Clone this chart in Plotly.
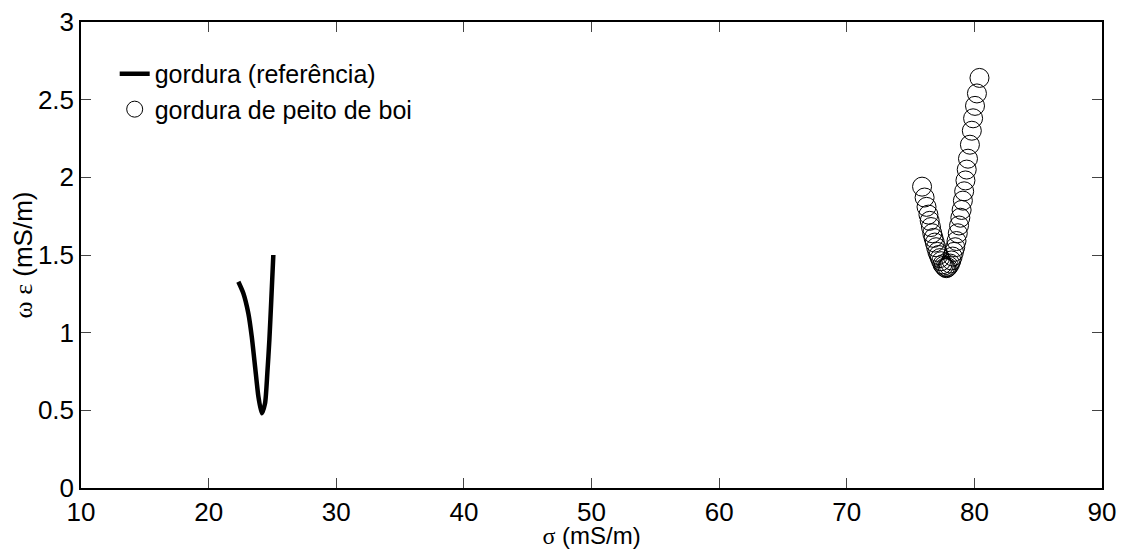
import plotly.graph_objects as go

# Reference curve: gordura (referência)
ref_sigma = [22.33, 22.72, 23.11, 23.38, 23.64, 23.90, 24.16, 24.42, 24.60, 24.76, 24.91, 25.07]
ref_we = [1.328, 1.254, 1.125, 0.974, 0.781, 0.588, 0.481, 0.545, 0.739, 0.953, 1.211, 1.50]

# Measured: gordura de peito de boi
boi_sigma = [75.9, 76.1, 76.25, 76.4, 76.5, 76.6, 76.7, 76.8, 76.9, 77.0, 77.1, 77.2,
             77.3, 77.4, 77.5, 77.6, 77.7, 77.8, 77.9, 78.0, 78.1, 78.2, 78.3, 78.4,
             78.5, 78.6, 78.7, 78.8, 78.9, 79.0, 79.1, 79.2, 79.3, 79.4, 79.5, 79.65,
             79.8, 79.9, 80.05, 80.2, 80.4]
boi_we = [1.94, 1.87, 1.81, 1.76, 1.72, 1.68, 1.64, 1.61, 1.58, 1.55, 1.52, 1.50,
          1.48, 1.46, 1.44, 1.43, 1.42, 1.415, 1.42, 1.43, 1.445, 1.465, 1.49, 1.52,
          1.55, 1.59, 1.64, 1.69, 1.74, 1.79, 1.85, 1.91, 1.98, 2.05, 2.12, 2.21,
          2.30, 2.38, 2.46, 2.54, 2.64]

x_ticks = [10, 20, 30, 40, 50, 60, 70, 80, 90]
y_ticks = [0, 0.5, 1, 1.5, 2, 2.5, 3]

FONT = "Liberation Sans, Arial, sans-serif"
GREEK = "font-family:'Liberation Serif','Times New Roman',serif"

fig = go.Figure()
fig.add_trace(go.Scatter(
    x=ref_sigma, y=ref_we, mode="lines", name="gordura (referência)",
    line=dict(color="black", width=4.5, shape="spline", smoothing=0.6),
))
fig.add_trace(go.Scatter(
    x=boi_sigma, y=boi_we, mode="markers", name="gordura de peito de boi",
    marker=dict(symbol="circle-open", size=19, color="black", line=dict(width=1)),
))

fig.update_layout(
    width=1118, height=541,
    margin=dict(l=73, r=24, t=14, b=61),
    paper_bgcolor="white", plot_bgcolor="white",
    font=dict(family=FONT, size=26, color="black"),
    showlegend=True,
    legend=dict(x=0.033, y=0.938, xanchor="left", yanchor="top",
                bgcolor="rgba(0,0,0,0)", borderwidth=0,
                font=dict(family=FONT, size=25, color="black"),
                itemwidth=30, tracegroupgap=0),
    xaxis=dict(
        range=[10, 90], tickvals=x_ticks, ticktext=[str(v) for v in x_ticks],
        ticks="inside", ticklen=10, tickcolor="#444", mirror="ticks",
        showline=True, linecolor="black", linewidth=1.5, showgrid=False, zeroline=False,
        tickfont=dict(family=FONT, size=26), automargin=False, ticklabeloverflow="allow",
        title=dict(text=f"<span style=\"{GREEK}\">σ</span> (mS/m)",
                   font=dict(family=FONT, size=24), standoff=0),
    ),
    yaxis=dict(
        range=[0, 3], tickvals=y_ticks, ticktext=["0", "0.5", "1", "1.5", "2", "2.5", "3"],
        ticks="inside", ticklen=10, tickcolor="#444", mirror="ticks",
        showline=True, linecolor="black", linewidth=1.5, showgrid=False, zeroline=False,
        tickfont=dict(family=FONT, size=26), automargin=False, ticklabeloverflow="allow",
        title=dict(text=f"<span style=\"{GREEK}\">ω ε</span> (mS/m)",
                   font=dict(family=FONT, size=26), standoff=0),
    ),
)

fig.write_html("out.html")
